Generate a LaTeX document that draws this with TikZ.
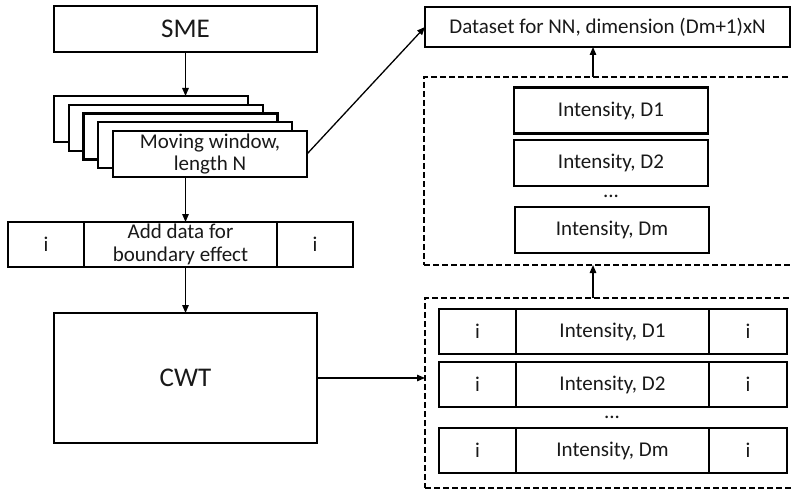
\documentclass[tikz,border=0pt]{standalone}
\usepackage{fontspec}
\setmainfont{Carlito}
\usetikzlibrary{arrows.meta}
\begin{document}
\begin{tikzpicture}[x=1pt,y=-1pt,
  txt/.style={font=\fontsize{21}{22.5}\selectfont, text=black!90, align=center},
  box/.style={draw, line width=2.1pt, fill=white, inner sep=0pt, outer sep=0pt, txt},
  bigtxt/.style={font=\fontsize{27}{30}\selectfont},
  group/.style={draw, line width=1.8pt, dash pattern=on 6pt off 3pt, inner sep=0pt, outer sep=0pt},
  arr/.style={line width=1.3pt, -{Triangle[length=8pt,width=6.5pt]}},
  win/.style={box, minimum width=194, minimum height=46},
  cell/.style={box, minimum height=45},
  ibox/.style={box, minimum width=194, minimum height=46}
]
\useasboundingbox (0,0) rectangle (791,489);
\fill[white] (0,0) rectangle (791,489);
\clip (0,0) rectangle (791,489);

% left column
\node[box, bigtxt, minimum width=263, minimum height=46] (sme) at (185.5,29) {SME};

% stack of moving windows
\node[win] (w1) at (151,119) {};
\node[win] (w2) at (165.75,127.75) {};
\node[win] (w3) at (180.5,136.5) {};
\node[win] (w4) at (195.25,145.25) {};
\node[win] (w5) at (210,154) {Moving window,\\length N};

% padded row
\node[cell, minimum width=76] (padl) at (46,244.5) {i};
\node[cell, minimum width=193] (padm) at (180.5,244.5) {Add data for\\boundary effect};
\node[cell, minimum width=76] (padr) at (315,244.5) {i};

\node[box, bigtxt, minimum width=263, minimum height=130] (cwt) at (185.5,378) {CWT};

% right column
\node[box, minimum width=365, minimum height=40] (ds) at (607.5,27) {Dataset for NN, dimension (Dm+1)xN};

\node[group, minimum width=376, minimum height=188] (topgrp) at (612,171) {};
\node[ibox] (d1) at (611,110.5) {Intensity, D1};
\node[ibox] (d2) at (611,163) {Intensity, D2};
\node[txt] (dotsa) at (611,196) {...};
\node[ibox] (dm) at (612,230) {Intensity, Dm};

\node[group, minimum width=375, minimum height=190] (botgrp) at (612.5,393) {};
\node[cell, minimum width=77]  (r1l) at (477.5,331.5) {i};
\node[cell, minimum width=193] (r1m) at (612.5,331.5) {Intensity, D1};
\node[cell, minimum width=78]  (r1r) at (748,331.5) {i};
\node[cell, minimum width=77]  (r2l) at (477.5,384.5) {i};
\node[cell, minimum width=193] (r2m) at (612.5,384.5) {Intensity, D2};
\node[cell, minimum width=78]  (r2r) at (748,384.5) {i};
\node[txt] (dotsb) at (612,417) {...};
\node[cell, minimum width=77]  (r3l) at (477.5,450.5) {i};
\node[cell, minimum width=193] (r3m) at (612.5,450.5) {Intensity, Dm};
\node[cell, minimum width=78]  (r3r) at (748,450.5) {i};

% connectors
\draw[arr] (sme.south) -- (sme.south |- w1.north);
\draw[arr] (sme.south |- w5.south) -- (sme.south |- padm.north);
\draw[arr] (sme.south |- padm.south) -- (cwt.north);
\draw[arr] (cwt.east) -- (cwt.east -| botgrp.west);
\draw[arr] (w5.east) -- (ds.west);
\draw[arr] ([xshift=-19.5]botgrp.north) -- ([xshift=-19.5]botgrp.north |- topgrp.south);
\draw[arr] ([xshift=-19]topgrp.north) -- ([xshift=-19]topgrp.north |- ds.south);
\end{tikzpicture}
\end{document}
